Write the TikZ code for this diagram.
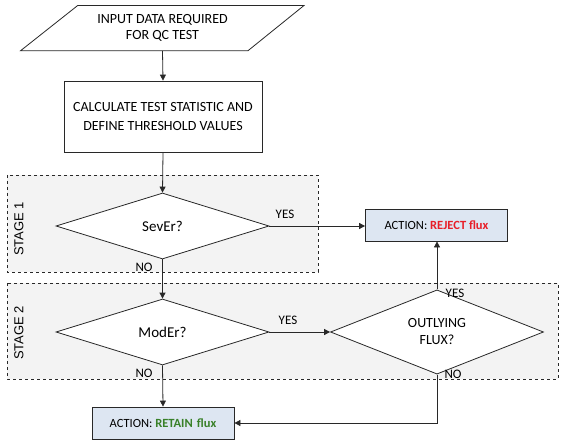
\documentclass[tikz,border=0pt]{standalone}
\usepackage{fontspec}
\setmainfont{Carlito}
\newfontfamily\stagefont{Liberation Sans}
\usetikzlibrary{shapes.geometric,arrows.meta,calc}
\definecolor{stagefill}{RGB}{243,243,243}
\definecolor{actfill}{RGB}{221,230,242}
\definecolor{rejred}{RGB}{232,30,40}
\definecolor{retgreen}{RGB}{56,128,40}
\definecolor{edge}{RGB}{40,40,40}
\tikzset{
  stagebox/.style={draw=edge, dashed, fill=stagefill, line width=0.7pt},
  stagelabel/.style={rotate=90, font=\stagefont\fontsize{13}{15}\selectfont},
  procbox/.style={draw=edge, fill=white, line width=0.8pt, minimum width=198pt, minimum height=71pt, align=center, inner sep=0pt, font=\fontsize{14}{19}\selectfont},
  decision/.style={diamond, draw=edge, fill=white, line width=0.8pt, inner sep=0pt, minimum width=213pt, minimum height=66pt, align=center},
  actionbox/.style={draw=edge, fill=actfill, line width=0.8pt, minimum width=142pt, minimum height=32pt, inner sep=0pt, font=\fontsize{12.5}{15}\selectfont},
  lbl/.style={font=\fontsize{13}{15}\selectfont, inner sep=0pt},
  arr/.style={draw=edge, line width=0.8pt, -{Triangle[length=6pt,width=6pt]}},
  conn/.style={draw=edge, line width=0.8pt}
}
\begin{document}
\begin{tikzpicture}[x=1pt,y=-1pt,font=\fontsize{14}{16}\selectfont]
\useasboundingbox (0,0) rectangle (566,444);
% stage boxes
\draw[stagebox] (7,175) rectangle (318,272);
\draw[stagebox] (7,283) rectangle (558,379);
\node[stagelabel] (s1) at (19,229) {STAGE 1};
\node[stagelabel] (s2) at (19,333) {STAGE 2};
% input parallelogram
\draw[edge, line width=0.8pt, fill=white] (77.7,5.5) -- (304,5.5) -- (248,50.7) -- (20.6,50.7) -- cycle;
\node[align=center, minimum height=45pt, inner sep=0pt, font=\fontsize{14}{16}\selectfont] (input) at (162.5,28.2) {INPUT DATA REQUIRED\\FOR QC TEST};
% process
\node[procbox] (calc) at (163,116.5) {CALCULATE TEST STATISTIC AND\\DEFINE THRESHOLD VALUES};
% decisions
\node[decision, font=\fontsize{15}{17}\selectfont] (sever) at (162.5,226) {SevEr?};
\node[decision, font=\fontsize{15}{17}\selectfont] (moder) at (162.5,332) {ModEr?};
\node[decision, font=\fontsize{14}{17}\selectfont] (outl) at (437,332) {OUTLYING\\FLUX?};
% actions
\node[actionbox] (reject) at (436.5,225) {ACTION: \textbf{\textcolor{rejred}{REJECT flux}}};
\node[actionbox] (retain) at (163,423) {ACTION: \textbf{\textcolor{retgreen}{RETAIN\,\,flux}}};
% connectors
\draw[arr] (input.south) -- (calc.north);
\draw[arr] (calc.south) -- (sever.north);
\draw[arr] (sever.east) -- (sever.east -| reject.west);
\draw[arr] (sever.south) -- (moder.north);
\draw[arr] (moder.east) -- (outl.west);
\draw[arr] (outl.north) -- (outl.north |- reject.south);
\draw[arr] (moder.south) -- (retain.north);
\draw[arr] (outl.south) |- (retain.east);
% labels
\node[lbl] (y1) at (285,214) {YES};
\node[lbl] (n1) at (144,267) {NO};
\node[lbl] (y2) at (288,320) {YES};
\node[lbl] (n2) at (144,373) {NO};
\node[lbl] (y3) at (455,293) {YES};
\node[lbl] (n3) at (453,374) {NO};
\end{tikzpicture}
\end{document}
